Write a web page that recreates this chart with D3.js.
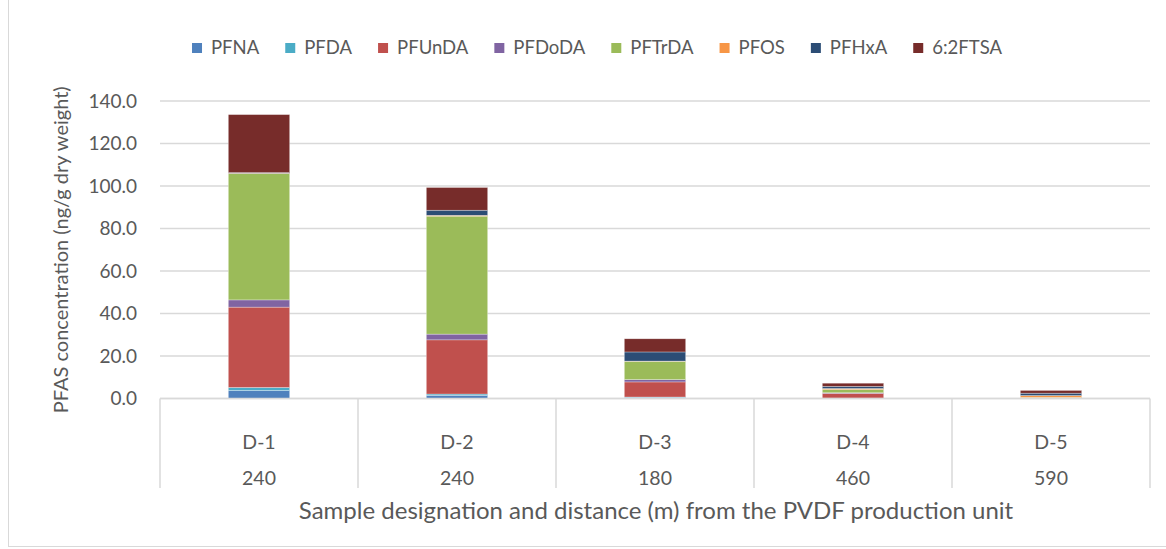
<!DOCTYPE html>
<html>
<head>
<meta charset="utf-8">
<script src="https://cdn.jsdelivr.net/npm/d3@7"></script>
<style>
  body { margin: 0; background: #fff; }
  svg { font-family: Lato, "Open Sans", sans-serif; }
</style>
</head>
<body>
<div id="chart"></div>
<script>
// data
let categories = ["D-1", "D-2", "D-3", "D-4", "D-5"];
let distances = ["240", "240", "180", "460", "590"];
let seriesNames = ["PFNA", "PFDA", "PFUnDA", "PFDoDA", "PFTrDA", "PFOS", "PFHxA", "6:2FTSA"];
let seriesColors = ["#4f81bd", "#4bacc6", "#c0504d", "#8064a2", "#9bbb59", "#f79646", "#2c4d75", "#772c2a"];

let PFNA = [3.8, 1.5, 0.5, 0.1, 0];
let PFDA = [1.4, 0.6, 0.2, 0.1, 0];
let PFUnDA = [37.8, 25.5, 7.1, 2.2, 0.2];
let PFDoDA = [3.4, 2.7, 1.1, 0.3, 0];
let PFTrDA = [59.4, 55.5, 8.6, 1.5, 0.3];
let PFOS = [0.2, 0.4, 0.1, 0.5, 0.9];
let PFHxA = [0.3, 2.4, 4.3, 1.0, 1.1];
let FTSA62 = [27.3, 10.7, 6.2, 1.5, 1.3];
let yTicks = [0, 20, 40, 60, 80, 100, 120, 140];

let seriesValues = [PFNA, PFDA, PFUnDA, PFDoDA, PFTrDA, PFOS, PFHxA, FTSA62];

let W = 1166, H = 549;
let plotLeft = 160, plotRight = 1150, plotTop = 101, plotBottom = 398.5;
let textColor = "#595959", gridColor = "#d9d9d9";

let svg = d3.select("#chart").append("svg")
  .attr("width", W).attr("height", H);

// outer chart border
svg.append("rect").attr("x", 8.5).attr("y", -1).attr("width", 1160).attr("height", 547.5)
  .attr("fill", "none").attr("stroke", gridColor).attr("stroke-width", 1);

let x = d3.scaleBand().domain(categories).range([plotLeft, plotRight]).padding(0);
let y = d3.scaleLinear().domain([0, 140]).range([plotBottom, plotTop]);

// gridlines
svg.append("g").selectAll("line").data(yTicks).join("line")
  .attr("x1", plotLeft).attr("x2", plotRight)
  .attr("y1", d => y(d)).attr("y2", d => y(d))
  .attr("stroke", gridColor).attr("stroke-width", 1.5);

// y tick labels
svg.append("g").selectAll("text").data(yTicks).join("text")
  .attr("x", 137).attr("y", d => y(d)).attr("dy", "0.35em")
  .attr("text-anchor", "end").attr("fill", textColor).attr("font-size", "19px")
  .text(d => d.toFixed(1));

// y title
svg.append("text")
  .attr("transform", "translate(68," + ((plotTop + plotBottom) / 2) + ") rotate(-90)")
  .attr("text-anchor", "middle").attr("fill", textColor).attr("font-size", "20px")
  .text("PFAS concentration (ng/g dry weight)");

// stacked bars
let rows = categories.map((c, i) => {
  let r = { cat: c };
  seriesNames.forEach((s, j) => { r[s] = seriesValues[j][i]; });
  return r;
});
let stack = d3.stack().keys(seriesNames)(rows);
let barW = x.bandwidth() * 0.31;

svg.append("g").selectAll("g").data(stack).join("g")
  .attr("fill", (d, i) => seriesColors[i])
  .selectAll("rect").data(d => d).join("rect")
  .attr("x", d => x(d.data.cat) + (x.bandwidth() - barW) / 2)
  .attr("width", barW)
  .attr("y", d => y(d[1]))
  .attr("height", d => y(d[0]) - y(d[1]))
  .attr("stroke", "#ffffff").attr("stroke-opacity", 0.5).attr("stroke-width", 0.6);

// category axis: baseline + separators
svg.append("line").attr("x1", plotLeft).attr("x2", plotRight).attr("y1", plotBottom).attr("y2", plotBottom)
  .attr("stroke", gridColor).attr("stroke-width", 1.5);
let seps = categories.map(c => x(c)).concat([plotRight]);
svg.append("g").selectAll("line").data(seps).join("line")
  .attr("x1", d => d).attr("x2", d => d).attr("y1", plotBottom).attr("y2", 488)
  .attr("stroke", gridColor).attr("stroke-width", 1.5);

svg.append("g").selectAll("text").data(categories).join("text")
  .attr("x", d => x(d) + x.bandwidth() / 2).attr("y", 449)
  .attr("text-anchor", "middle").attr("fill", textColor).attr("font-size", "19.5px")
  .text(d => d);
svg.append("g").selectAll("text").data(distances).join("text")
  .attr("x", (d, i) => x(categories[i]) + x.bandwidth() / 2).attr("y", 485)
  .attr("text-anchor", "middle").attr("fill", textColor).attr("font-size", "19.5px")
  .text(d => d);

svg.append("text").attr("x", 656).attr("y", 519)
  .attr("text-anchor", "middle").attr("fill", textColor).attr("font-size", "24px")
  .text("Sample designation and distance (m) from the PVDF production unit");

// legend, laid out by measured text widths
let legend = svg.append("g");
let lx = 0;
seriesNames.forEach((s, i) => {
  let g = legend.append("g").attr("transform", "translate(" + lx + ",0)");
  g.append("rect").attr("x", 0).attr("y", -5).attr("width", 10).attr("height", 10)
    .attr("fill", seriesColors[i]);
  let t = g.append("text").attr("x", 19).attr("dy", "0.35em")
    .attr("fill", textColor).attr("font-size", "18.5px").text(s);
  lx += 19 + t.node().getComputedTextLength() + 26;
});
let legendW = lx - 26;
legend.attr("transform", "translate(" + (597 - legendW / 2) + ",48)");
</script>
</body>
</html>
